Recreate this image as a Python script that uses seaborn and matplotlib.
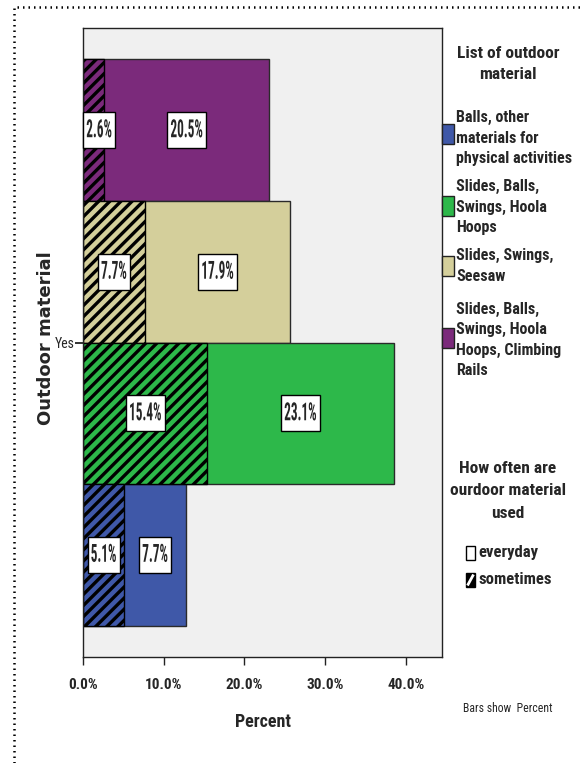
import matplotlib
matplotlib.use("Agg")
import matplotlib.pyplot as plt
import seaborn as sns
import pandas as pd
from matplotlib import font_manager
from matplotlib.patches import Rectangle
from matplotlib.lines import Line2D
from matplotlib.patheffects import AbstractPathEffect
from matplotlib.transforms import Affine2D

# ---- data -------------------------------------------------------------
materials = [
    "Balls, other materials for physical activities",
    "Slides, Balls, Swings, Hoola Hoops",
    "Slides, Swings, Seesaw",
    "Slides, Balls, Swings, Hoola Hoops, Climbing Rails",
]
legend_lines = [
    "Balls, other\nmaterials for\nphysical activities",
    "Slides, Balls,\nSwings, Hoola\nHoops",
    "Slides, Swings,\nSeesaw",
    "Slides, Balls,\nSwings, Hoola\nHoops, Climbing\nRails",
]
everyday = [7.7, 23.1, 17.9, 20.5]
sometimes = [5.1, 15.4, 7.7, 2.6]
colors = ["#3F58A8", "#2DB84A", "#D4CF9B", "#7B2A7B"]
x_ticks = [0, 10, 20, 30, 40]
frequency = ["everyday", "sometimes"]

# ---- style --------------------------------------------------------------
sns.set_theme(style="white")
available = {f.name for f in font_manager.fontManager.ttflist}


def pick(*names):
    for n in names:
        if n in available:
            return n
    return "DejaVu Sans"


NARROW = pick("Liberation Sans Narrow", "Roboto Condensed", "DejaVu Sans Condensed", "Liberation Sans")
plt.rcParams["font.family"] = [NARROW, "DejaVu Sans"]
plt.rcParams["hatch.linewidth"] = 2.4

W, H = 584, 763


def fx(px):
    return px / W


def fy(py):
    return 1 - py / H


class HSquash(AbstractPathEffect):
    """Compress a drawn path horizontally about its own centre."""

    def __init__(self, sx):
        super().__init__()
        self._sx = sx

    def draw_path(self, renderer, gc, tpath, affine, rgbFace=None):
        ext = tpath.get_extents(affine)
        cx = 0.5 * (ext.x0 + ext.x1)
        t = affine + Affine2D().translate(-cx, 0).scale(self._sx, 1).translate(cx, 0)
        renderer.draw_path(gc, tpath, t, rgbFace)


df = pd.DataFrame({
    "Outdoor material": ["Yes"] * len(materials),
    "material": materials,
    "everyday": everyday,
    "sometimes": sometimes,
})
df["total"] = df["everyday"] + df["sometimes"]

# top-to-bottom stacking order of the bars
order = materials[::-1]
palette = dict(zip(materials, colors))

fig = plt.figure(figsize=(W / 100, H / 100), dpi=100)
ax = fig.add_axes([fx(83), fy(657), fx(442) - fx(83), fy(28) - fy(657)])
ax.set_facecolor("#F0F0F0")

# full bar (everyday part shows beyond the hatched part)
sns.barplot(data=df, x="total", y="Outdoor material", hue="material",
            hue_order=order, palette=palette, orient="h", width=0.9,
            dodge=True, errorbar=None, legend=False, saturation=1,
            edgecolor="#2a2a2a", linewidth=1.0, ax=ax)
# hatched "sometimes" part from zero
sns.barplot(data=df, x="sometimes", y="Outdoor material", hue="material",
            hue_order=order, palette=palette, orient="h", width=0.9,
            dodge=True, errorbar=None, legend=False, saturation=1,
            edgecolor="black", linewidth=1.0, hatch="///", ax=ax)

squash = [HSquash(0.53)]


def value_label(x, y, txt):
    t = ax.text(x, y, txt, ha="center", va="center", fontsize=18,
                fontweight="bold", zorder=5,
                bbox=dict(boxstyle="square,pad=0.24", fc="white", ec="black", lw=1))
    t.set_path_effects(squash)
    t.get_bbox_patch().set_path_effects(squash)
    return t


for i, m in enumerate(order):
    bar = ax.containers[i][0]
    yc = bar.get_y() + bar.get_height() / 2
    row = df[df["material"] == m].iloc[0]
    s, e = row["sometimes"], row["everyday"]
    value_label(max(s / 2, 2.0), yc, f"{s:.1f}%")
    value_label(s + e / 2, yc, f"{e:.1f}%")

ax.set_xlim(0, 44.5)
ax.set_xticks(x_ticks)
ax.set_xticklabels([f"{t:.1f}%" for t in x_ticks], fontsize=11, fontweight="bold")
ax.tick_params(axis="x", bottom=True, direction="out", length=5.8, width=1,
               color="#222", pad=9)
ax.tick_params(axis="y", left=True, direction="out", length=5.8, width=1.3,
               color="#222", pad=0, labelsize=10)
for sp in ax.spines.values():
    sp.set_visible(True)
    sp.set_color("#222")
    sp.set_linewidth(1.0)
ax.set_xlabel("")
ax.set_ylabel("")

fig.text(fx(263), fy(722), "Percent", ha="center", va="center",
         fontsize=13, fontweight="bold")
fig.text(fx(46), fy(338), "Outdoor material", ha="center", va="center",
         rotation=90, fontsize=13, fontweight="bold", family="DejaVu Sans")
fig.text(fx(508), fy(708), "Bars show  Percent", ha="center", va="center",
         fontsize=8.5)

# ---- legend: material -------------------------------------------------
fig.text(fx(508), fy(64), "List of outdoor\nmaterial", ha="center", va="center",
         fontsize=12.5, fontweight="bold", linespacing=1.5)
text_centers = [138, 207, 266, 340]
patch_centers = [134, 206, 266, 338]
for lab, col, tc, pc in zip(legend_lines, colors, text_centers, patch_centers):
    fig.text(fx(456), fy(tc), lab, ha="left", va="center", fontsize=11.5,
             fontweight="bold", linespacing=1.45)
    fig.patches.append(Rectangle((fx(442), fy(pc + 10)), fx(12), 20 / H,
                                 transform=fig.transFigure, fc=col,
                                 ec="#222", lw=1))

# ---- legend: frequency ------------------------------------------------
fig.text(fx(508), fy(491), "How often are\nourdoor material\nused", ha="center",
         va="center", fontsize=12.5, fontweight="bold", linespacing=1.6)
for k, (lab, yc) in enumerate(zip(frequency, [553, 580])):
    fig.patches.append(Rectangle((fx(466), fy(yc + 7)), fx(9), 14 / H,
                                 transform=fig.transFigure,
                                 fc="white" if k == 0 else "black",
                                 ec="black", lw=1))
    if k == 1:
        # single white diagonal stripe inside the black swatch
        fig.lines.append(Line2D([fx(467.5), fx(473.5)], [fy(yc + 5.5), fy(yc - 5.5)],
                                transform=fig.transFigure, color="white",
                                lw=2.0, solid_capstyle="butt"))
    fig.text(fx(478), fy(yc), lab, ha="left", va="center", fontsize=12,
             fontweight="bold")

# ---- dotted frame -------------------------------------------------------
fig.lines.append(Line2D([fx(14), fx(14), 1.0], [0.0, fy(7), fy(7)],
                        transform=fig.transFigure, color="black", lw=1.8,
                        linestyle=(0, (0.6, 1.6))))

fig.savefig("out.png", dpi=100, facecolor="white")
